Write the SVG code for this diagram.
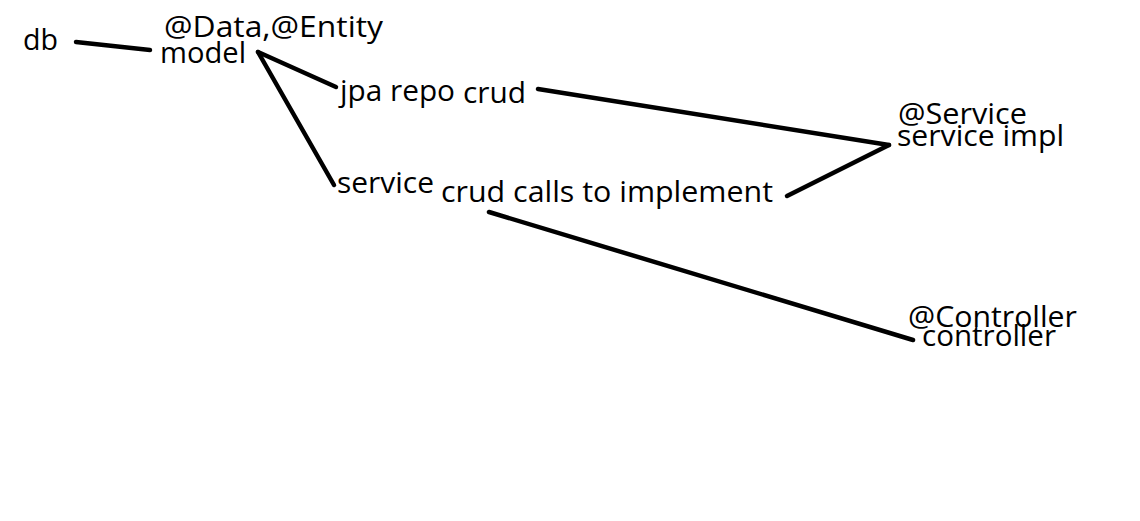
<svg xmlns="http://www.w3.org/2000/svg" width="1140" height="521" viewBox="0 0 1140 521">
<style>
text{font-family:"Open Sans","Noto Sans","DejaVu Sans",sans-serif;font-size:30px;fill:#000}
.c line{stroke:#000;stroke-width:4.5;stroke-linecap:round}
</style>
<rect width="1140" height="521" fill="#fff"/>
<g class="c" id="connectors">
<line x1="76" y1="42" x2="150" y2="50"/>
<line x1="258" y1="52" x2="336" y2="87"/>
<line x1="258" y1="52" x2="334" y2="185"/>
<line x1="538" y1="89" x2="889" y2="145"/>
<line x1="889" y1="145" x2="787" y2="196"/>
<line x1="489" y1="212" x2="913" y2="340"/>
</g>
<g id="db"><text x="23" y="50" textLength="35" lengthAdjust="spacingAndGlyphs">db</text></g>
<g id="model"><text x="164" y="37" textLength="219" lengthAdjust="spacingAndGlyphs">@Data,@Entity</text><text x="160" y="63" textLength="86" lengthAdjust="spacingAndGlyphs">model</text></g>
<g id="jpa"><text x="340" y="101" textLength="115" lengthAdjust="spacingAndGlyphs">jpa repo</text></g>
<g id="crud"><text x="463" y="103" textLength="63" lengthAdjust="spacingAndGlyphs">crud</text></g>
<g id="service"><text x="337" y="193" textLength="97" lengthAdjust="spacingAndGlyphs">service</text></g>
<g id="crudcalls"><text x="441" y="202" textLength="332" lengthAdjust="spacingAndGlyphs">crud calls to implement</text></g>
<g id="serviceimpl"><text x="898" y="124" textLength="129" lengthAdjust="spacingAndGlyphs">@Service</text><text x="897" y="146" textLength="167" lengthAdjust="spacingAndGlyphs">service impl</text></g>
<g id="controller"><text x="908" y="327" textLength="169" lengthAdjust="spacingAndGlyphs">@Controller</text><text x="922" y="346" textLength="134" lengthAdjust="spacingAndGlyphs">controller</text></g>
</svg>
